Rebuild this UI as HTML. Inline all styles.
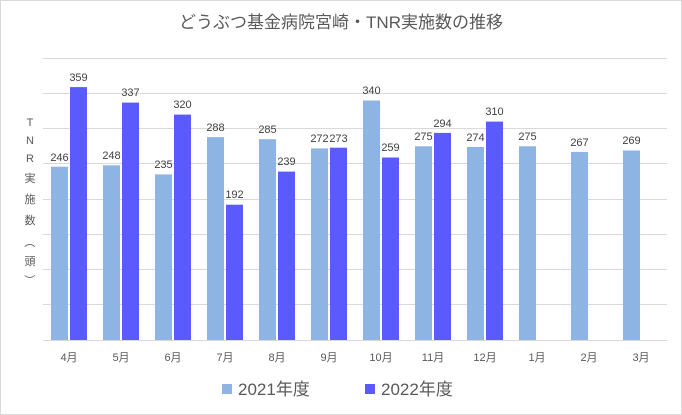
<!DOCTYPE html>
<html><head><meta charset="utf-8"><style>
body{margin:0;background:#fff;}
svg{display:block;font-family:"Liberation Sans","Noto Sans CJK JP",sans-serif;}
</style></head><body>
<svg width="682" height="415" viewBox="0 0 682 415">
<rect x="0.5" y="0.5" width="681" height="414" fill="#fff" stroke="#d9d9d9"/>
<text x="341" y="28" text-anchor="middle" font-size="17" fill="#595959">どうぶつ基金病院宮崎・TNR実施数の推移</text>
<g stroke="#d9d9d9" stroke-width="1">
<line x1="43" x2="667" y1="58.5" y2="58.5"/><line x1="43" x2="667" y1="93.5" y2="93.5"/>
<line x1="43" x2="667" y1="128.5" y2="128.5"/><line x1="43" x2="667" y1="163.5" y2="163.5"/>
<line x1="43" x2="667" y1="199.5" y2="199.5"/><line x1="43" x2="667" y1="234.5" y2="234.5"/>
<line x1="43" x2="667" y1="269.5" y2="269.5"/><line x1="43" x2="667" y1="304.5" y2="304.5"/>
<line x1="43" x2="667" y1="340.5" y2="340.5"/>
</g>
<g font-size="11" fill="#595959" text-anchor="middle">
<text x="30" y="126">T</text><text x="30" y="144">N</text><text x="30" y="162">R</text>
<text x="30" y="182">実</text><text x="30" y="203">施</text><text x="30" y="224">数</text>
<text x="30" y="246" transform="rotate(90 30 242)">（</text><text x="30" y="265">頭</text>
<text x="30" y="284" transform="rotate(90 30 280)">）</text>
</g>
<g fill="#8eb4e3">
<rect x="51" y="166.7" width="17" height="173.3"/>
<rect x="103" y="165.3" width="17" height="174.7"/>
<rect x="155" y="174.4" width="17" height="165.6"/>
<rect x="207" y="137.1" width="17" height="202.9"/>
<rect x="259" y="139.2" width="17" height="200.8"/>
<rect x="311" y="148.4" width="17" height="191.6"/>
<rect x="363" y="100.5" width="17" height="239.5"/>
<rect x="415" y="146.3" width="17" height="193.7"/>
<rect x="467" y="147" width="17" height="193"/>
<rect x="519" y="146.3" width="17" height="193.7"/>
<rect x="571" y="151.9" width="17" height="188.1"/>
<rect x="623" y="150.5" width="17" height="189.5"/>
</g>
<g fill="#5a5aff">
<rect x="70" y="87.1" width="17" height="252.9"/>
<rect x="122" y="102.6" width="17" height="237.4"/>
<rect x="174" y="114.6" width="17" height="225.4"/>
<rect x="226" y="204.7" width="17" height="135.3"/>
<rect x="278" y="171.6" width="17" height="168.4"/>
<rect x="330" y="147.7" width="17" height="192.3"/>
<rect x="382" y="157.5" width="17" height="182.5"/>
<rect x="434" y="132.9" width="17" height="207.1"/>
<rect x="486" y="121.6" width="17" height="218.4"/>
</g>
<g font-size="11" fill="#404040" text-anchor="middle">
<text x="59.5" y="161">246</text><text x="111.5" y="159">248</text><text x="163.5" y="168">235</text>
<text x="215.5" y="131">288</text><text x="267.5" y="133">285</text><text x="319.5" y="142">272</text>
<text x="371.5" y="94">340</text><text x="423.5" y="140">275</text><text x="475.5" y="141">274</text>
<text x="527.5" y="140">275</text><text x="579.5" y="146">267</text><text x="631.5" y="144">269</text>
<text x="78.5" y="81">359</text><text x="130.5" y="96">337</text><text x="182.5" y="108">320</text>
<text x="234.5" y="198">192</text><text x="286.5" y="165">239</text><text x="338.5" y="142">273</text>
<text x="390.5" y="151">259</text><text x="442.5" y="127">294</text><text x="494.5" y="115">310</text>
</g>
<g font-size="11" fill="#595959" text-anchor="middle">
<text x="69" y="361">4月</text><text x="121" y="361">5月</text><text x="173" y="361">6月</text>
<text x="225" y="361">7月</text><text x="277" y="361">8月</text><text x="329" y="361">9月</text>
<text x="381" y="361">10月</text><text x="433" y="361">11月</text><text x="485" y="361">12月</text>
<text x="537" y="361">1月</text><text x="589" y="361">2月</text><text x="641" y="361">3月</text>
</g>
<rect x="222" y="384" width="10" height="10" fill="#8eb4e3"/>
<text x="238" y="395" font-size="17" fill="#595959">2021年度</text>
<rect x="365" y="384" width="10" height="10" fill="#5a5aff"/>
<text x="381" y="395" font-size="17" fill="#595959">2022年度</text>
</svg>
</body></html>
